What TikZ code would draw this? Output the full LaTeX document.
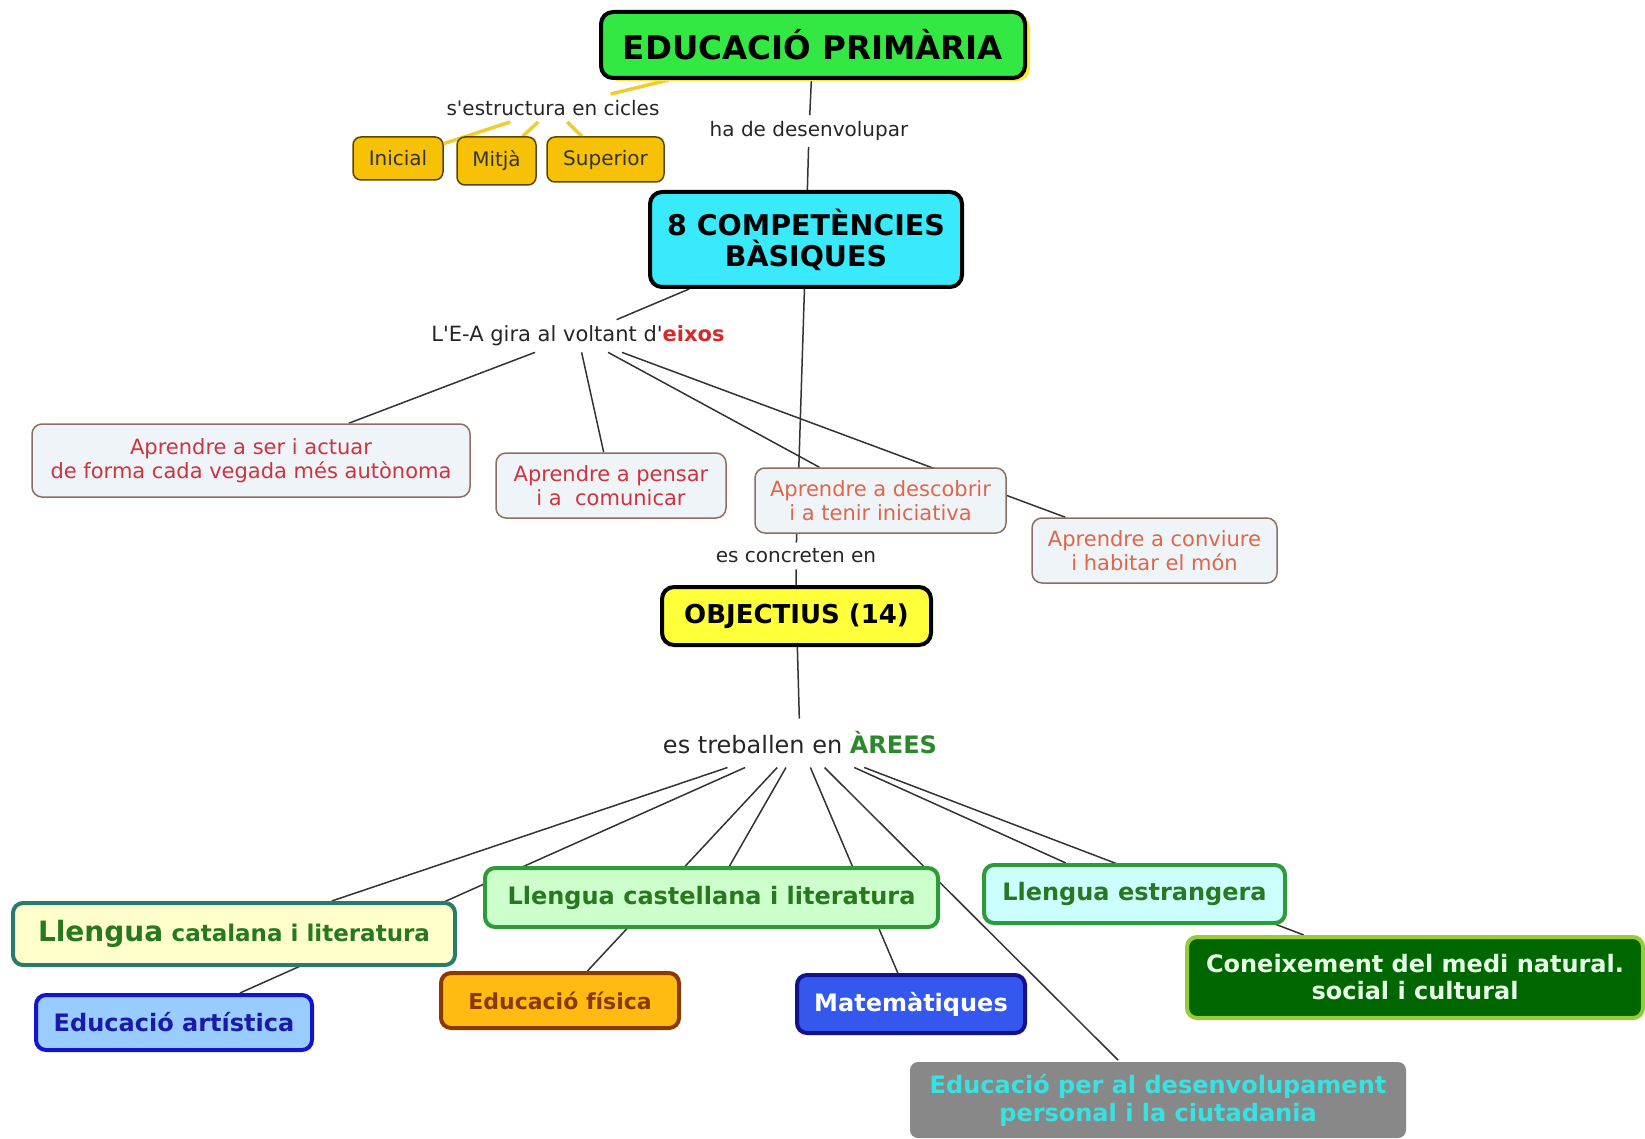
\documentclass[tikz,border=0pt]{standalone}
\usepackage{fontspec}
\setmainfont{DejaVu Sans}
\usetikzlibrary{backgrounds,shadows}
\definecolor{edugreen}{HTML}{33E843}
\definecolor{shadowyellow}{HTML}{FFE83A}
\definecolor{compcyan}{HTML}{38EAFB}
\definecolor{objyellow}{HTML}{FFFF3A}
\definecolor{ciclefill}{HTML}{F7C106}
\definecolor{cicledraw}{HTML}{5A4500}
\definecolor{cyellow}{HTML}{F2CC2E}
\definecolor{linegray}{HTML}{333333}
\definecolor{axisfill}{HTML}{EEF4F7}
\definecolor{axisdraw}{HTML}{8E6E60}
\definecolor{axisred}{HTML}{CF333F}
\definecolor{axisorange}{HTML}{E0664A}
\definecolor{eixred}{HTML}{D42A2A}
\definecolor{areagreen}{HTML}{2A8A2A}
\definecolor{txtgreen}{HTML}{27781E}
\definecolor{catfill}{HTML}{FFFFCC}
\definecolor{catdraw}{HTML}{2A7A6E}
\definecolor{casfill}{HTML}{CCFFCC}
\definecolor{casdraw}{HTML}{2E9A3A}
\definecolor{estfill}{HTML}{CCFFFF}
\definecolor{artfill}{HTML}{99CCFF}
\definecolor{artdraw}{HTML}{1414CC}
\definecolor{arttext}{HTML}{1A1AAA}
\definecolor{fisfill}{HTML}{FFBB11}
\definecolor{fisdraw}{HTML}{8A3A00}
\definecolor{matfill}{HTML}{3457EE}
\definecolor{matdraw}{HTML}{12128A}
\definecolor{conefill}{HTML}{006600}
\definecolor{conedraw}{HTML}{99CC33}
\definecolor{conetext}{HTML}{E6FFE6}
\definecolor{grayfill}{HTML}{888888}
\definecolor{graytext}{HTML}{38E2E2}
\begin{document}
\begin{tikzpicture}[x=1pt,y=-1pt,
  bigbox/.style={draw=black, line width=4pt, rounded corners=12pt, align=center, inner sep=0pt},
  ciclebox/.style={draw=cicledraw, fill=ciclefill, line width=1.5pt, rounded corners=8pt, inner sep=0pt,
     font=\fontsize{20}{24}\selectfont, text=black!80},
  axisbox/.style={draw=axisdraw, fill=axisfill, line width=1.5pt, rounded corners=10pt, inner sep=0pt,
     align=center, font=\fontsize{21}{24}\selectfont},
  areabox/.style={line width=4pt, rounded corners=10pt, inner sep=0pt, align=center,
     font=\bfseries\fontsize{24}{28}\selectfont},
  lbl/.style={inner sep=6pt, font=\fontsize{20}{24}\selectfont, text=black!85},
  conn/.style={draw=linegray, line width=1.5pt},
  ycon/.style={draw=cyellow, line width=3.5pt}]
\useasboundingbox (0,0) rectangle (1645,1139);
% top
\node[bigbox, fill=edugreen, minimum width=424pt, minimum height=66pt,
      drop shadow={shadow xshift=5pt, shadow yshift=-3pt, fill=shadowyellow, opacity=1},
      font=\bfseries\fontsize{32.5}{35}\selectfont] (edu) at (813,45) {EDUCACIÓ PRIMÀRIA};
\node[lbl] (cicles) at (553,108) {s\textquotesingle estructura en cicles};
\node[ciclebox, minimum width=90pt, minimum height=43pt] (ini) at (398,158.5) {Inicial};
\node[ciclebox, minimum width=79pt, minimum height=48pt] (mit) at (496.5,161) {Mitjà};
\node[ciclebox, minimum width=117pt, minimum height=45pt] (sup) at (605.5,159.5) {Superior};
\node[lbl] (hade) at (809,131) {ha de desenvolupar};
\node[bigbox, fill=compcyan, minimum width=312pt, minimum height=95pt,
      font=\bfseries\fontsize{28.5}{31}\selectfont] (comp) at (806,239.5) {8 COMPETÈNCIES\\BÀSIQUES};
% axes
\node[lbl, font=\fontsize{21}{24}\selectfont] (eixos) at (578,336)
  {L\textquotesingle E-A gira al voltant d\textquotesingle\textcolor{eixred}{\bfseries eixos}};
\node[axisbox, text=axisred, minimum width=438pt, minimum height=73pt] (ser) at (251,460.5)
  {Aprendre a ser i actuar\\de forma cada vegada més autònoma};
\node[axisbox, text=axisred, minimum width=230pt, minimum height=65pt] (pen) at (611,485.5)
  {Aprendre a pensar\\i a~ comunicar};
\node[axisbox, text=axisorange, minimum width=251pt, minimum height=65pt] (desc) at (880.5,500.5)
  {Aprendre a descobrir\\i a tenir iniciativa};
\node[axisbox, text=axisorange, minimum width=245pt, minimum height=65pt] (conv) at (1154.5,550.5)
  {Aprendre a conviure\\i habitar el món};
\node[lbl] (concr) at (796,556) {es concreten en};
\node[bigbox, fill=objyellow, minimum width=269pt, minimum height=58pt,
      font=\bfseries\fontsize{26}{30}\selectfont] (obj) at (796.5,616) {OBJECTIUS (14)};
\node[lbl, inner ysep=13pt, font=\fontsize{24}{28}\selectfont] (arees) at (800,743)
  {es treballen en \textcolor{areagreen}{\bfseries ÀREES}};
% areas
\node[areabox, draw=catdraw, fill=catfill, text=txtgreen, minimum width=442pt, minimum height=62pt] (cat) at (234,934)
  {{\fontsize{28}{30}\selectfont Llengua} {\fontsize{23}{28}\selectfont catalana i literatura}};
\node[areabox, draw=casdraw, fill=casfill, text=txtgreen, minimum width=453pt, minimum height=59pt] (cas) at (711.5,897.5)
  {Llengua castellana i literatura};
\node[areabox, draw=casdraw, fill=estfill, text=txtgreen, minimum width=301pt, minimum height=58pt] (est) at (1134.5,894)
  {Llengua estrangera};
\node[areabox, draw=artdraw, fill=artfill, text=arttext, minimum width=276pt, minimum height=55pt] (art) at (174,1022.5)
  {Educació artística};
\node[areabox, draw=fisdraw, fill=fisfill, text=fisdraw, minimum width=238pt, minimum height=55pt,
      font=\bfseries\fontsize{22}{26}\selectfont] (fis) at (560,1000.5) {Educació física};
\node[areabox, draw=matdraw, fill=matfill, text=white, minimum width=228pt, minimum height=58pt] (mat) at (911,1004)
  {Matemàtiques};
\node[areabox, draw=conedraw, fill=conefill, text=conetext, minimum width=456pt, minimum height=81pt,
      font=\bfseries\fontsize{24}{27}\selectfont] (cone) at (1415,977.5)
  {Coneixement del medi natural.\\social i cultural};
\node[areabox, draw=none, fill=grayfill, text=graytext, minimum width=496pt, minimum height=76pt,
      rounded corners=8pt, font=\bfseries\fontsize{24}{28}\selectfont] (epd) at (1158,1100)
  {Educació per al desenvolupament\\personal i la ciutadania};
% connectors
\begin{pgfonlayer}{background}
  \draw[ycon] (edu) -- (cicles);
  \draw[ycon] (cicles) -- (ini);
  \draw[ycon] (cicles) -- (mit);
  \draw[ycon] (cicles) -- (sup);
  \draw[conn] (edu) -- (hade);
  \draw[conn] (hade) -- (comp);
  \draw[conn] (comp) -- (eixos);
  \draw[conn] (comp) -- (concr);
  \draw[conn] (eixos) -- (ser);
  \draw[conn] (eixos) -- (pen);
  \draw[conn] (eixos) -- (desc);
  \draw[conn] (eixos) -- (conv);
  \draw[conn] (concr) -- (obj);
  \draw[conn] (obj) -- (arees);
  \draw[conn] (arees) -- (cat);
  \draw[conn] (arees) -- (art);
  \draw[conn] (arees) -- (fis);
  \draw[conn] (arees) -- (cas);
  \draw[conn] (arees) -- (mat);
  \draw[conn] (arees) -- (epd);
  \draw[conn] (arees) -- (est);
  \draw[conn] (arees) -- (cone);
\end{pgfonlayer}
\end{tikzpicture}
\end{document}
